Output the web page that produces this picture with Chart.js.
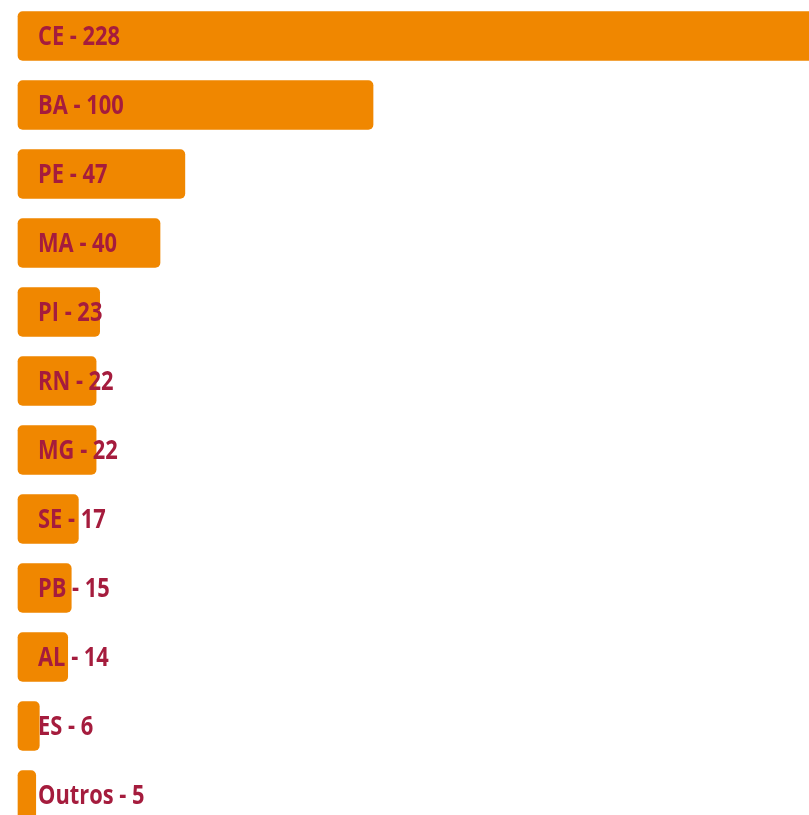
<!DOCTYPE html>
<html>
<head>
<meta charset="utf-8">
<script src="https://cdn.jsdelivr.net/npm/chart.js@4/dist/chart.umd.min.js"></script>
<style>
  html, body { margin: 0; padding: 0; background: #fff; }
  #wrap { position: relative; width: 809px; height: 815px; }
</style>
</head>
<body>
<div id="wrap"><canvas id="estados"></canvas></div>
<script>
var ESTADOS = ['CE', 'BA', 'PE', 'MA', 'PI', 'RN', 'MG', 'SE', 'PB', 'AL', 'ES', 'Outros'];
var TOTAIS  = [228, 100, 47, 40, 23, 22, 22, 17, 15, 14, 6, 5];

var BAR_COLOR  = '#F08700';
var TEXT_COLOR = '#A51C3D';

// rótulo "UF - total" escrito sempre a partir do início da barra
var labelPlugin = {
  id: 'rotulos',
  afterDatasetsDraw: function(chart) {
    var ctx = chart.ctx;
    var meta = chart.getDatasetMeta(0);
    var x0 = chart.scales.x.getPixelForValue(0);
    ctx.save();
    ctx.font = 'bold 27px "Open Sans"';
    ctx.fillStyle = TEXT_COLOR;
    ctx.textBaseline = 'middle';
    meta.data.forEach(function(bar, i) {
      var txt = ESTADOS[i] + ' - ' + TOTAIS[i];
      ctx.save();
      ctx.translate(x0 + 20, bar.y + 1);
      ctx.scale(0.81, 1);
      ctx.fillText(txt, 0, 0);
      ctx.restore();
    });
    ctx.restore();
  }
};

new Chart(document.getElementById('estados'), {
  type: 'bar',
  data: {
    labels: ESTADOS,
    datasets: [{
      data: TOTAIS,
      backgroundColor: BAR_COLOR,
      borderRadius: 5,
      borderSkipped: false,
      barThickness: 49,
      clip: false
    }]
  },
  options: {
    indexAxis: 'y',
    responsive: true,
    maintainAspectRatio: false,
    animation: false,
    layout: { padding: { left: 18, top: 36, right: 0, bottom: 20 } },
    plugins: { legend: { display: false }, tooltip: { enabled: false } },
    scales: {
      x: { display: false, min: 0, max: 222.8 },
      y: { display: false, offset: false, grid: { display: false } }
    }
  },
  plugins: [labelPlugin]
});
</script>
</body>
</html>
